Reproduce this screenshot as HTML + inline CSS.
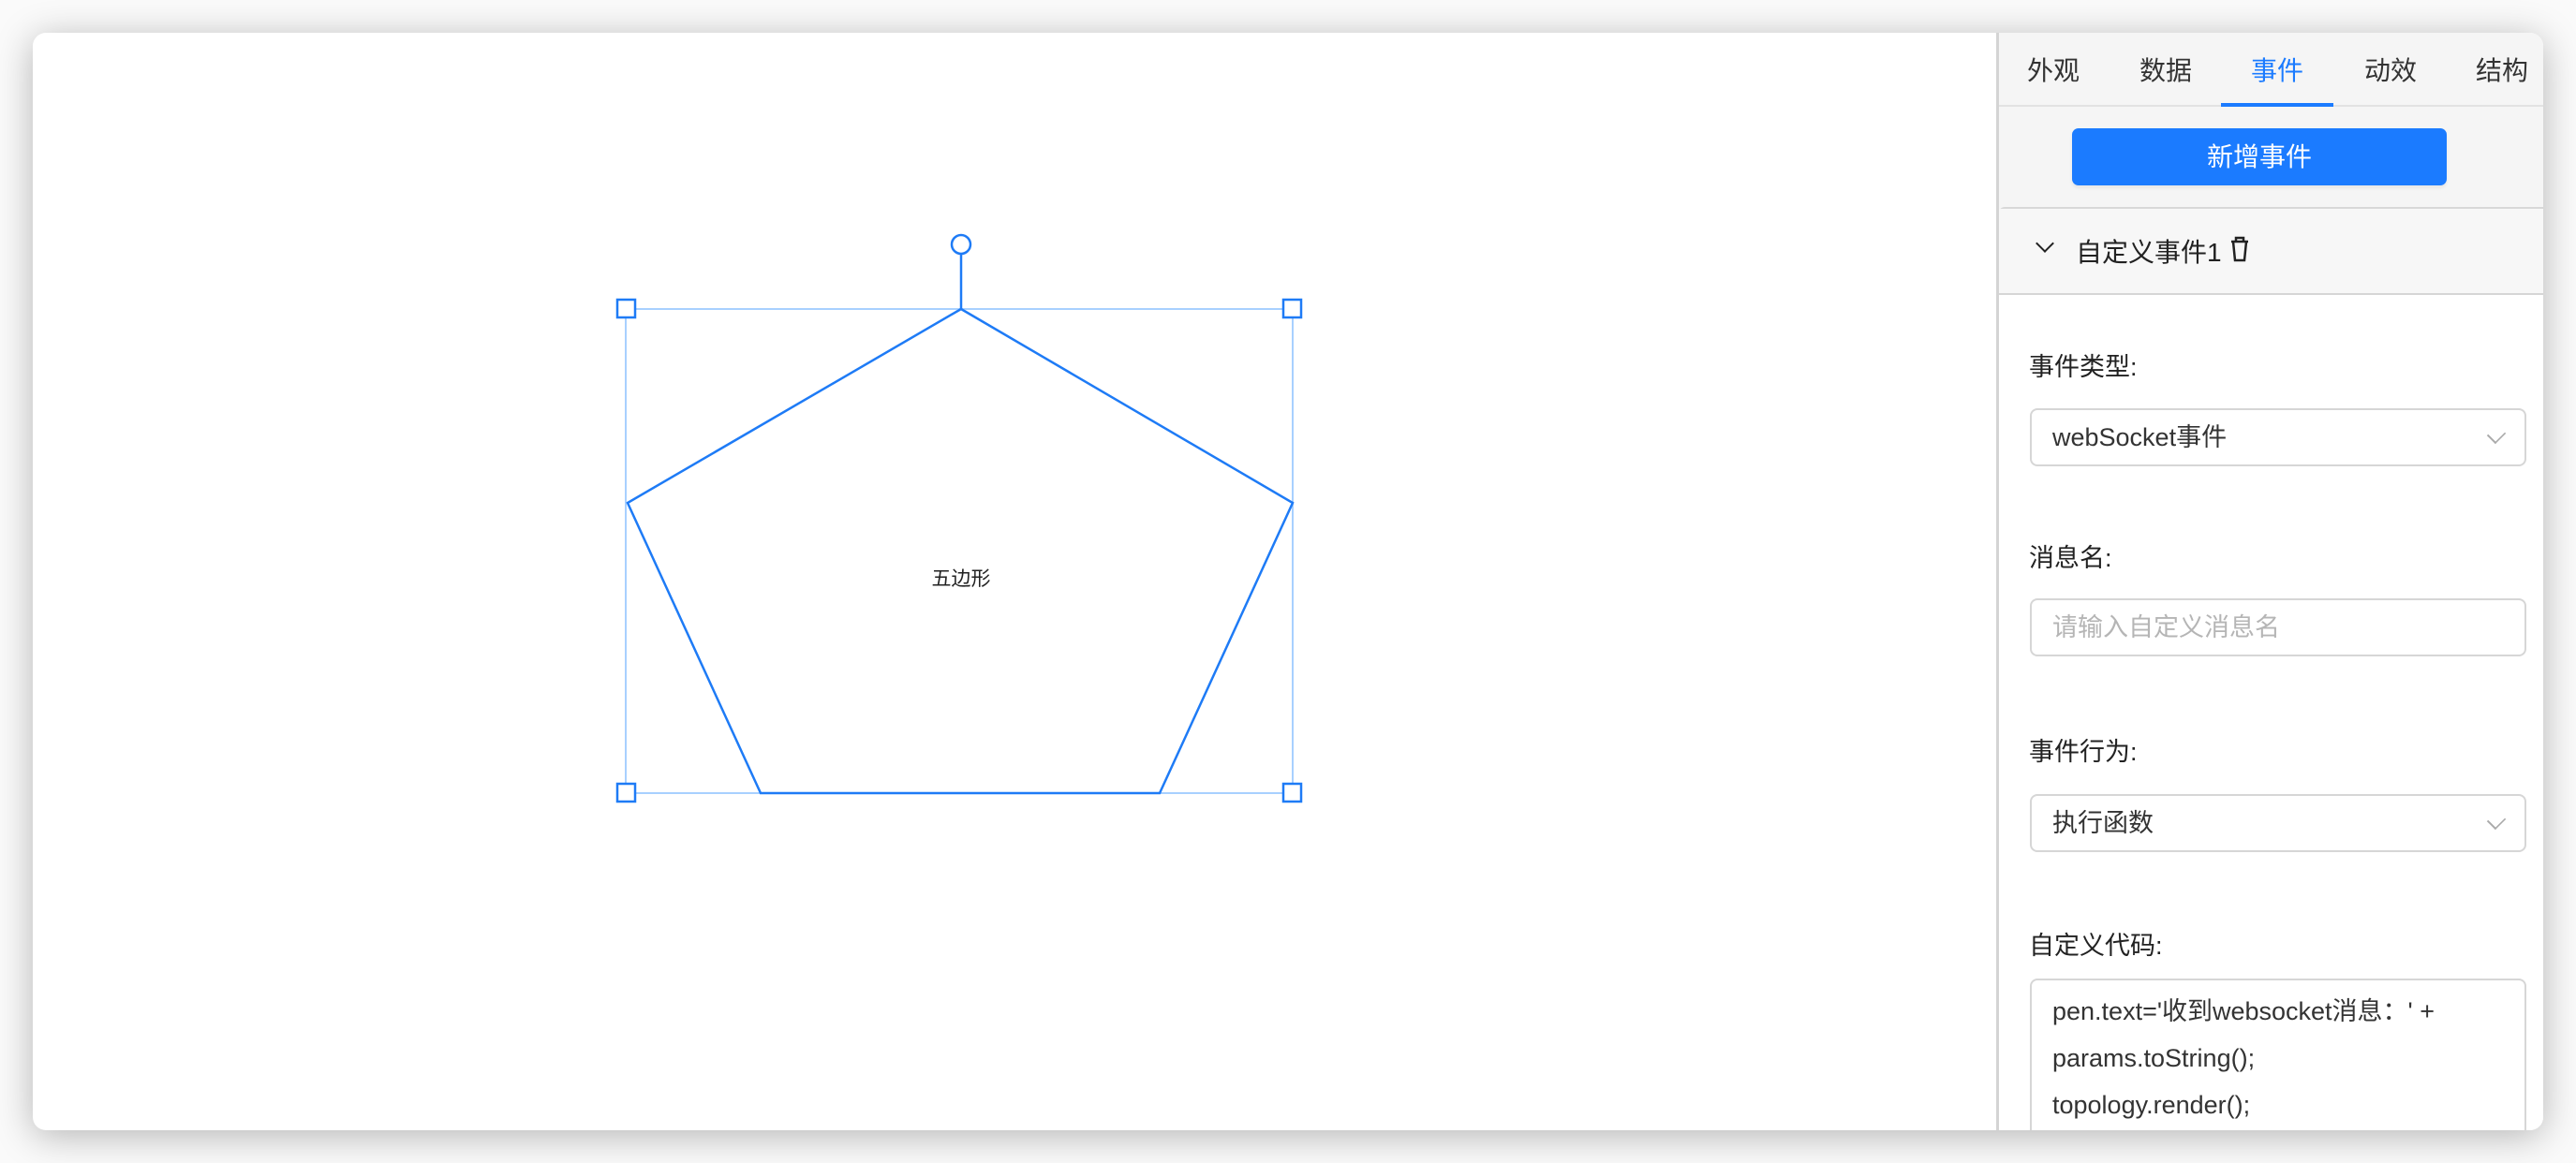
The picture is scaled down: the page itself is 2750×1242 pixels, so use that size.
<!DOCTYPE html>
<html><head><meta charset="utf-8"><style>
*{box-sizing:border-box;margin:0;padding:0}
body{width:2750px;height:1242px;background:#fafafa;position:relative;overflow:hidden;font-family:"Liberation Sans","Noto Sans CJK SC",sans-serif;color:#222}
.win{position:absolute;left:35px;top:35px;width:2680px;height:1172px;background:#fff;border-radius:14px;box-shadow:0 6px 40px rgba(0,0,0,.28);overflow:hidden}
.abs{position:absolute}
.panel{position:absolute;left:2096px;top:0;width:584px;height:1172px;border-left:3px solid #d4d4d4;background:#f5f5f5}
.tab{position:absolute;top:19px;font-size:28px;color:#333;transform:translateX(-50%);white-space:nowrap}
.field-label{position:absolute;left:32px;font-size:27px;color:#222;white-space:nowrap}
.sel{position:absolute;left:33px;width:530px;height:62px;border:2px solid #d6d6d6;border-radius:8px;background:#fff;font-size:27px;padding-left:22px;line-height:58px;color:#333;white-space:nowrap}
.chev{position:absolute;right:22px;top:18px;width:16px;height:16px;border-right:2px solid #aaa;border-bottom:2px solid #aaa;transform:rotate(45deg) scaleX(.8)}
</style></head><body>
<div class="win">
  <svg class="abs" style="left:0;top:0" width="2096" height="1172">
    <g transform="translate(-35,-35)">
      <rect x="668" y="330" width="712" height="517" fill="none" stroke="#a8d0ff" stroke-width="2"/>
      <polygon points="1026,330 1380,537 1238,847 812,847 670,537" fill="none" stroke="#1e7bf6" stroke-width="2.5"/>
      <line x1="1026" y1="272" x2="1026" y2="330" stroke="#1e7bf6" stroke-width="2.5"/>
      <circle cx="1026" cy="261" r="10" fill="#fff" stroke="#1e7bf6" stroke-width="2.5"/>
      <rect x="659" y="320" width="19" height="19" fill="#fff" stroke="#1e7bf6" stroke-width="2.5"/>
      <rect x="1370" y="320" width="19" height="19" fill="#fff" stroke="#1e7bf6" stroke-width="2.5"/>
      <rect x="659" y="837" width="19" height="19" fill="#fff" stroke="#1e7bf6" stroke-width="2.5"/>
      <rect x="1370" y="837" width="19" height="19" fill="#fff" stroke="#1e7bf6" stroke-width="2.5"/>
      <text x="1026" y="625" font-size="21" text-anchor="middle" fill="#222" font-family="Liberation Sans, Noto Sans CJK SC, sans-serif">五边形</text>
    </g>
  </svg>
  <div class="panel">
    <div class="abs" style="left:0;top:0;width:584px;height:79px;border-bottom:2px solid #e2e2e2"></div>
    <div class="tab" style="left:58px">外观</div>
    <div class="tab" style="left:178px">数据</div>
    <div class="tab" style="left:297px;color:#1b7bff">事件</div>
    <div class="tab" style="left:418px">动效</div>
    <div class="tab" style="left:537px">结构</div>
    <div class="abs" style="left:237px;top:75px;width:120px;height:4px;background:#1b7bff"></div>
    <div class="abs" style="left:78px;top:102px;width:400px;height:61px;background:#1b7bff;border-radius:7px;color:#fff;font-size:28px;text-align:center;line-height:61px;box-shadow:0 3px 3px rgba(0,0,0,.06)">新增事件</div>
    <div class="abs" style="left:0;top:186px;width:584px;height:986px;background:#fff;border-top:2px solid #d8d8d8;border-radius:6px 0 0 0">
      <div class="abs" style="left:0;top:0;width:584px;height:92px;background:#f7f7f7;border-bottom:2px solid #d6d6d6">
        <div class="abs" style="left:42px;top:30px;width:14px;height:14px;border-right:2.5px solid #222;border-bottom:2.5px solid #222;transform:rotate(45deg)"></div>
        <div class="abs" style="left:82px;top:25px;font-size:28px;color:#222;white-space:nowrap">自定义事件1</div>
        <svg class="abs" style="left:245px;top:28px" width="24" height="30"><path d="M3 7h18M8 7V3h8v4M5 7l2 20h10l2-20" fill="none" stroke="#222" stroke-width="2.5"/></svg>
      </div>
      <div class="field-label" style="top:147px">事件类型:</div>
      <div class="sel" style="top:213px">webSocket事件<div class="chev"></div></div>
      <div class="field-label" style="top:351px">消息名:</div>
      <div class="sel" style="top:416px;color:#b5b5b5">请输入自定义消息名</div>
      <div class="field-label" style="top:558px">事件行为:</div>
      <div class="sel" style="top:625px">执行函数<div class="chev"></div></div>
      <div class="field-label" style="top:765px">自定义代码:</div>
      <div class="sel" style="top:822px;height:220px;line-height:50px;padding-top:8px;color:#333">pen.text='收到websocket消息：' +<br>params.toString();<br>topology.render();</div>
    </div>
  </div>
</div>
</body></html>
